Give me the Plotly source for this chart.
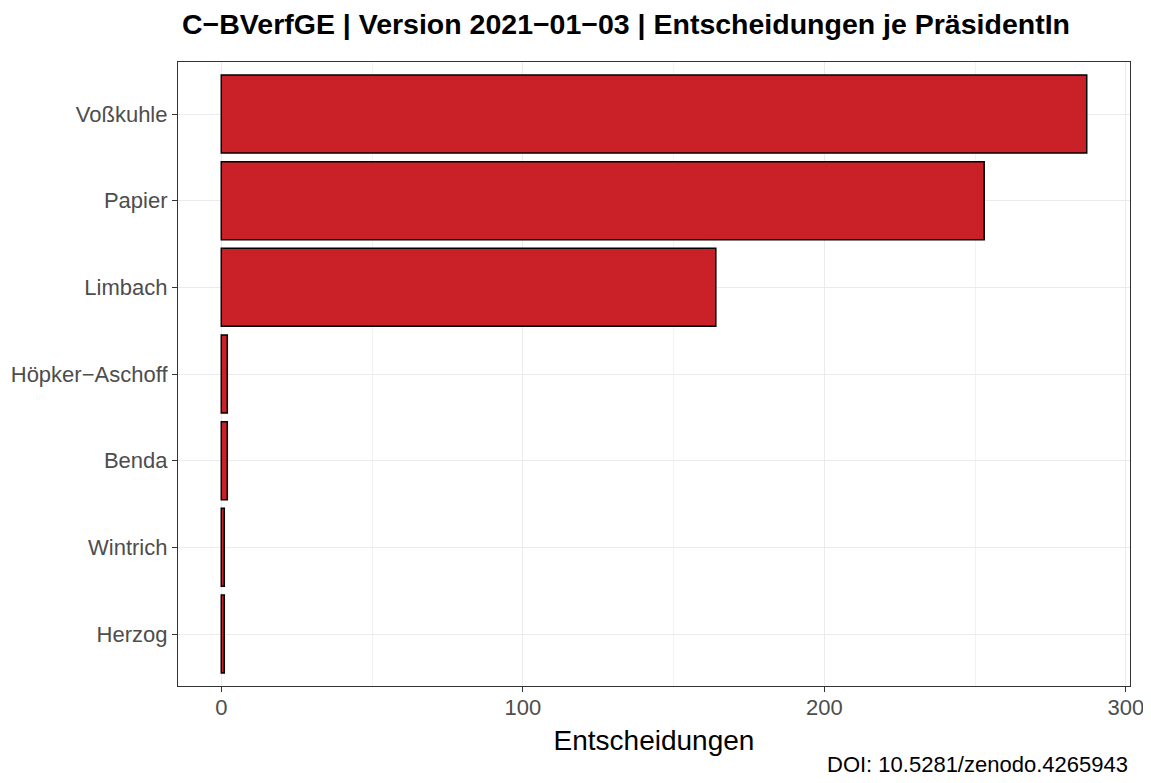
import plotly.graph_objects as go

presidents = ["Herzog", "Wintrich", "Benda", "Höpker−Aschoff", "Limbach", "Papier", "Voßkuhle"]
decisions = [1, 1, 2, 2, 164, 253, 287]

title = "C−BVerfGE | Version 2021−01−03 | Entscheidungen je PräsidentIn"
x_title = "Entscheidungen"
caption = "DOI: 10.5281/zenodo.4265943"
x_ticks = [0, 100, 200, 300]

FONT = "Liberation Sans, Arial, sans-serif"

fig = go.Figure()
fig.add_trace(go.Bar(
    y=presidents, x=decisions, orientation="h", width=0.9,
    marker=dict(color="#CA2129", line=dict(color="black", width=1.5)),
))

fig.update_layout(
    width=1143, height=775,
    margin=dict(l=170, r=21, t=54, b=97),
    plot_bgcolor="white", paper_bgcolor="white",
    showlegend=False,
    title=dict(text="<b>" + title + "</b>", x=0.5407, xanchor="center", y=0.979, yanchor="middle",
               font=dict(family=FONT, size=28.5, color="black")),
    font=dict(family=FONT),
)
fig.update_xaxes(
    range=[-14.35, 301.35], tickvals=x_ticks, ticktext=[str(v) for v in x_ticks],
    showgrid=True, gridcolor="#EBEBEB", gridwidth=1,
    minor=dict(tickvals=[50, 150, 250], showgrid=True, gridcolor="#F2F2F2", gridwidth=1),
    ticks="outside", ticklen=5, tickcolor="#333333", tickwidth=1,
    ticklabelstandoff=-4,
    tickfont=dict(size=22, color="#4D4D4D", family=FONT),
    title=dict(text=x_title, font=dict(size=28, color="black", family=FONT), standoff=11),
    showline=True, linecolor="#333333", linewidth=1.2, mirror=True, zeroline=False,
    automargin=False,
)
fig.update_yaxes(
    range=[-0.6, 6.6], categoryorder="array", categoryarray=presidents,
    showgrid=True, gridcolor="#EBEBEB", gridwidth=1,
    ticks="outside", ticklen=5, tickcolor="#333333", tickwidth=1,
    tickfont=dict(size=22, color="#4D4D4D", family=FONT),
    showline=True, linecolor="#333333", linewidth=1.2, mirror=True, zeroline=False,
    automargin=False,
)
fig.add_annotation(text=caption, x=1.0, xref="paper", xanchor="right", y=-0.1266, yref="paper",
                   yanchor="middle", showarrow=False,
                   font=dict(size=22, color="black", family=FONT))

fig.write_html("out.html")
